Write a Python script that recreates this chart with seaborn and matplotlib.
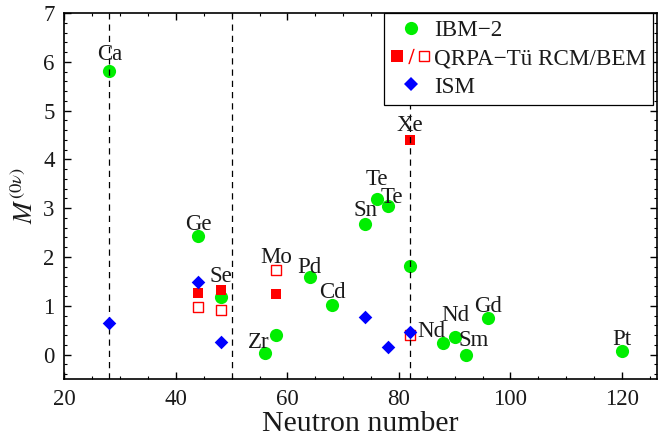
import matplotlib
matplotlib.use("Agg")
import matplotlib.pyplot as plt
import seaborn as sns
import pandas as pd
from matplotlib.lines import Line2D
from matplotlib.legend_handler import HandlerTuple
from matplotlib.ticker import MultipleLocator

# ---------------- data ----------------
ibm_n = [28, 44, 48, 56, 58, 64, 68, 74, 76, 78, 82, 88, 90, 92, 96, 120]
ibm_m = [5.81, 2.44, 1.19, 0.03, 0.41, 1.58, 1.02, 2.68, 3.19, 3.05, 1.81, 0.23, 0.36, 0.00, 0.74, 0.07]

rcm_n = [44, 48, 58, 82]
rcm_m = [1.26, 1.33, 1.25, 4.40]

bem_n = [44, 48, 58, 82]
bem_m = [0.98, 0.92, 1.74, 0.40]

ism_n = [28, 44, 48, 74, 78, 82]
ism_m = [0.655, 1.48, 0.26, 0.77, 0.16, 0.47]

shell_closures = [28, 50, 82]

label_text = ["Ca", "Ge", "Se", "Zr", "Mo", "Pd", "Cd", "Sn", "Te", "Te",
              "Xe", "Nd", "Nd", "Sm", "Gd", "Pt"]
label_n = [28, 44, 48, 56, 58, 64, 68, 74, 76, 78, 82, 82, 90, 92, 96, 120]
label_series = ["ibm", "ibm", "ibm", "ibm", "bem", "ibm", "ibm", "ibm", "ibm", "ibm",
                "rcm", "ism", "ibm", "ibm", "ibm", "ibm"]

legend_labels = ["IBM\u22122", "QRPA\u2212T\u00fc RCM/BEM", "ISM"]

# ---------------- style ----------------
sns.set_style("ticks")
plt.rcParams["font.family"] = ["Liberation Serif", "DejaVu Serif"]
plt.rcParams["mathtext.fontset"] = "stix"

GREEN = "#00ee00"
RED = "#ff0000"
BLUE = "#0000ff"
TXT = "#1a1a1a"

fig = plt.figure(figsize=(6.67, 4.44), dpi=100)
ax = fig.add_axes([0.0966, 0.1464, 0.8884, 0.8243])

df_ibm = pd.DataFrame({"N": ibm_n, "M": ibm_m})
df_rcm = pd.DataFrame({"N": rcm_n, "M": rcm_m})
df_bem = pd.DataFrame({"N": bem_n, "M": bem_m})
df_ism = pd.DataFrame({"N": ism_n, "M": ism_m})

sns.scatterplot(data=df_ibm, x="N", y="M", ax=ax, marker="o", s=90,
                color=GREEN, edgecolor=GREEN, linewidth=0, zorder=3, legend=False)
sns.scatterplot(data=df_rcm, x="N", y="M", ax=ax, marker="s", s=62,
                color=RED, edgecolor=RED, linewidth=0, zorder=4, legend=False)
sns.scatterplot(data=df_bem, x="N", y="M", ax=ax, marker="s", s=50,
                facecolor="white", edgecolor=RED, linewidth=1.0, zorder=4, legend=False)
for xv in shell_closures:
    ax.axvline(xv, color="black", linestyle=(0, (5, 4)), linewidth=0.9, zorder=4.5)
sns.scatterplot(data=df_ism, x="N", y="M", ax=ax, marker="D", s=48,
                color=BLUE, edgecolor=BLUE, linewidth=0, zorder=6, legend=False)

# labels (offsets in pixels from anchor point)
series_map = {"ibm": (ibm_n, ibm_m), "rcm": (rcm_n, rcm_m),
              "bem": (bem_n, bem_m), "ism": (ism_n, ism_m)}
offsets = [(1, 17), (0, 11.5), (0, 20), (-6, 11), (0, 12.5), (0, 10), (0, 12.5),
           (0, 13.5), (0, 19), (4, 8.5), (0, 14), (21, 0.5), (1, 22), (7.5, 14),
           (0, 12), (0, 11.7)]
for txt, n, ser, off in zip(label_text, label_n, label_series, offsets):
    ns, ms = series_map[ser]
    yv = ms[ns.index(n)]
    ax.annotate(txt, (n, yv), xytext=off, textcoords="offset pixels",
                ha="center", va="center", fontsize=16.5, color=TXT, zorder=7)

ax.set_xlim(20, 126.3)
ax.set_ylim(-0.5, 7)
ax.xaxis.set_major_locator(MultipleLocator(20))
ax.xaxis.set_minor_locator(MultipleLocator(5))
ax.yaxis.set_major_locator(MultipleLocator(1))
ax.yaxis.set_minor_locator(MultipleLocator(0.2))
ax.tick_params(which="both", direction="in", top=True, right=True, color="black",
               labelsize=16.5, labelcolor=TXT, pad=7)
ax.tick_params(which="major", length=5, width=1.0)
ax.tick_params(which="minor", length=2.5, width=0.8)
for sp in ax.spines.values():
    sp.set_visible(True)
    sp.set_linewidth(1.2)
    sp.set_color("black")

ax.set_xlabel("Neutron number", fontsize=21.5, labelpad=1, color=TXT)
ax.set_ylabel(r"$M^{(0\nu)}$", fontsize=19, labelpad=4, color=TXT)

# legend
h1 = Line2D([], [], ls="", marker="o", markersize=9.5, color=GREEN, markeredgewidth=0)
h2a = Line2D([], [], ls="", marker="s", markersize=8, color=RED, markeredgewidth=0)
h2b = Line2D([], [], ls="", marker="$/$", markersize=11, color=RED, markeredgewidth=0)
h2c = Line2D([], [], ls="", marker="s", markersize=7.2, markerfacecolor="white",
             markeredgecolor=RED, markeredgewidth=1.0)
h3 = Line2D([], [], ls="", marker="D", markersize=7, color=BLUE, markeredgewidth=0)
leg = ax.legend(handles=[h1, (h2a, h2b, h2c), h3], labels=legend_labels,
                handler_map={tuple: HandlerTuple(ndivide=None, pad=0)},
                loc="upper right", bbox_to_anchor=(0.993, 1.0), borderaxespad=0.0,
                frameon=True, fancybox=False, framealpha=1, edgecolor="black",
                fontsize=16.7, handlelength=1.7, handletextpad=0.15,
                labelspacing=0.3, borderpad=0.3)
for t in leg.get_texts():
    t.set_color(TXT)
leg.get_frame().set_linewidth(0.9)
leg.set_zorder(10)

fig.savefig("out.png", dpi=100)
